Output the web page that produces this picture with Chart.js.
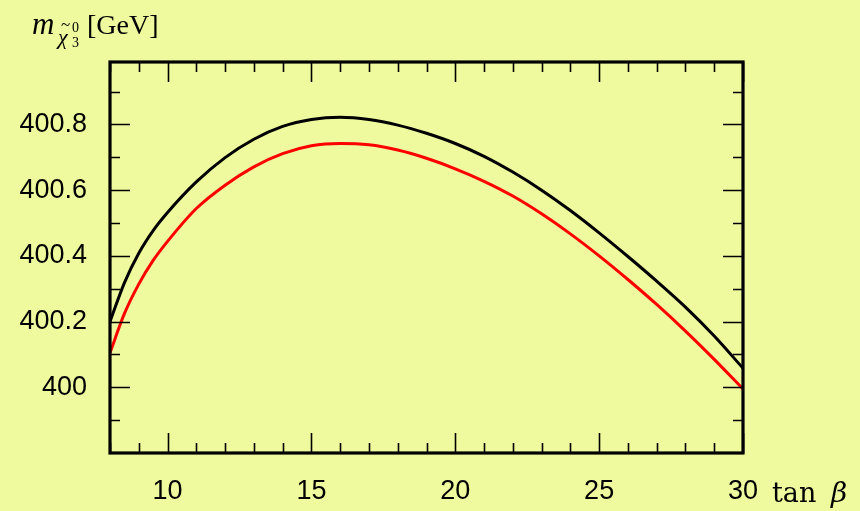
<!DOCTYPE html>
<html>
<head>
<meta charset="utf-8">
<script src="https://cdn.jsdelivr.net/npm/chart.js@4"></script>
<style>
  html, body { margin: 0; padding: 0; background: rgb(239, 250, 158); }
  #wrap { width: 860px; height: 511px; }
</style>
</head>
<body>
<div id="wrap"><canvas id="grafico"></canvas></div>
<script>
// datos
var tanBeta = [8, 8.5, 9, 9.5, 10, 11, 12, 13, 14, 15, 16, 17, 18, 19, 20, 21, 22, 23, 24, 25, 26, 27, 28, 29, 30];
var masaNegra = [400.200, 400.318, 400.408, 400.477, 400.532, 400.625, 400.699, 400.755, 400.794, 400.815, 400.822, 400.815, 400.798, 400.773, 400.742, 400.703, 400.655, 400.600, 400.538, 400.470, 400.398, 400.323, 400.244, 400.156, 400.058];
var masaRoja = [400.105, 400.224, 400.314, 400.386, 400.444, 400.544, 400.615, 400.671, 400.711, 400.735, 400.742, 400.738, 400.722, 400.697, 400.665, 400.627, 400.582, 400.528, 400.467, 400.400, 400.328, 400.252, 400.171, 400.085, 399.995];
var xTicks = [10, 15, 20, 25, 30];
var yTicks = [400, 400.2, 400.4, 400.6, 400.8];
var yLabels = ['400', '400.2', '400.4', '400.6', '400.8'];

function puntos(ys) {
  return tanBeta.map(function (x, i) { return { x: x, y: ys[i] }; });
}

// marco y marcas hacia dentro, como en el original
var marco = {
  id: 'marco',
  afterDraw: function (chart) {
    var c = chart.ctx, a = chart.chartArea;
    var sx = chart.scales.x, sy = chart.scales.y;
    c.save();
    c.strokeStyle = '#000';
    c.lineWidth = 1.6;
    c.beginPath();
    for (var t = 8; t <= 30; t++) {
      var px = Math.round(sx.getPixelForValue(t)) + 0.5;
      var len = (t % 5 === 0) ? 20 : 10;
      c.moveTo(px, a.bottom); c.lineTo(px, a.bottom - len);
      c.moveTo(px, a.top); c.lineTo(px, a.top + len);
    }
    for (var k = 0; k <= 10; k++) {
      var v = 399.9 + k * 0.1;
      var py = Math.round(sy.getPixelForValue(v)) + 0.5;
      var l2 = (k % 2 === 1) ? 20 : 10;
      c.moveTo(a.left, py); c.lineTo(a.left + l2, py);
      c.moveTo(a.right, py); c.lineTo(a.right - l2, py);
    }
    c.stroke();
    c.lineWidth = 3.2;
    c.strokeRect(a.left, a.top, a.right - a.left, a.bottom - a.top);

    // titulos de los ejes
    c.fillStyle = '#000';
    c.textBaseline = 'alphabetic';
    c.font = 'italic 31px "Liberation Serif"';
    c.fillText('m', 32, 34);
    c.font = 'italic 22px "Liberation Serif"';
    c.fillText('\u03c7', 58, 44);
    c.font = '17px "Liberation Serif"';
    c.fillText('~', 61, 30);
    c.font = '14px "Liberation Serif"';
    c.fillText('0', 72, 32);
    c.fillText('3', 72, 47);
    c.font = '28px "Liberation Serif"';
    c.fillText('[GeV]', 87, 34);
    c.font = '27px "DejaVu Serif"';
    c.fillText('tan', 772, 502);
    c.font = 'italic 28px "DejaVu Serif"';
    c.fillText('\u03b2', 831, 502);
    c.restore();
  }
};

var ctx = document.getElementById('grafico').getContext('2d');
var grafico = new Chart(ctx, {
  type: 'line',
  data: {
    datasets: [{
      data: puntos(masaNegra),
      borderColor: '#000000',
      borderWidth: 3,
      pointRadius: 0,
      cubicInterpolationMode: 'monotone'
    }, {
      data: puntos(masaRoja),
      borderColor: '#ff0000',
      borderWidth: 3,
      pointRadius: 0,
      cubicInterpolationMode: 'monotone'
    }]
  },
  options: {
    responsive: true,
    maintainAspectRatio: false,
    animation: false,
    layout: { padding: { top: 62, right: 117, left: 0, bottom: 0 } },
    plugins: { legend: { display: false }, tooltip: { enabled: false } },
    scales: {
      x: {
        type: 'linear',
        min: 8,
        max: 30,
        grid: { display: false },
        border: { display: false },
        afterBuildTicks: function (s) { s.ticks = xTicks.map(function (v) { return { value: v }; }); },
        afterFit: function (s) { s.height = 58; },
        ticks: {
          color: '#000',
          padding: 14,
          maxRotation: 0,
          font: { family: '"Liberation Sans", Arial', size: 27 },
          callback: function (v) { return String(v); }
        }
      },
      y: {
        type: 'linear',
        min: 399.8,
        max: 400.99,
        grid: { display: false },
        border: { display: false },
        afterBuildTicks: function (s) { s.ticks = yTicks.map(function (v) { return { value: v }; }); },
        afterFit: function (s) { s.width = 110; },
        ticks: {
          color: '#000',
          padding: 15,
          font: { family: '"Liberation Sans", Arial', size: 27 },
          callback: function (v) {
            var i = yTicks.findIndex(function (t) { return Math.abs(t - v) < 1e-6; });
            return i >= 0 ? yLabels[i] : '';
          }
        }
      }
    }
  },
  plugins: [marco]
});
</script>
</body>
</html>
